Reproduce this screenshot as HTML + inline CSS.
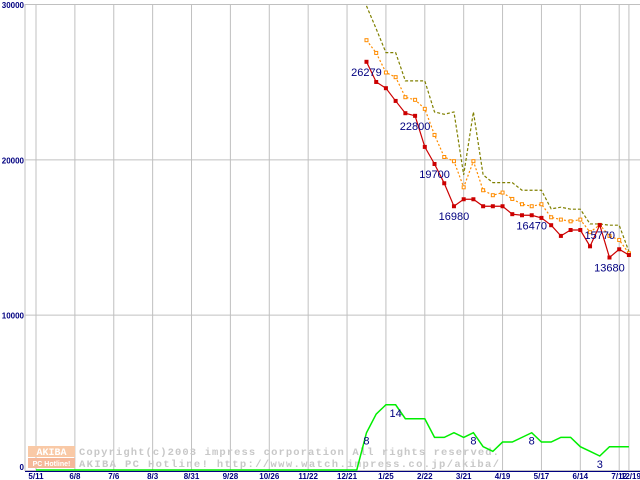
<!DOCTYPE html>
<html><head><meta charset="utf-8"><style>
html,body{margin:0;padding:0;background:#fff;width:640px;height:480px;overflow:hidden}
svg{display:block}
text{font-family:"Liberation Sans",sans-serif}
</style></head><body>
<svg id="chart" width="640" height="480" xmlns="http://www.w3.org/2000/svg">
<g id="grid"></g>
<g id="wm">
 <rect x="28" y="446" width="47" height="11" fill="#f9c9a6"/>
 <text x="51.5" y="455" font-size="10" font-weight="bold" fill="#fff" text-anchor="middle" style="font-family:'Liberation Mono',monospace">AKIBA</text>
 <rect x="28" y="458" width="47" height="10" fill="#f5b89a"/>
 <text x="51.5" y="466" font-size="7" font-weight="bold" fill="#fff" text-anchor="middle">PC Hotline!</text>
 <text x="79" y="455" font-size="10.5" font-weight="bold" fill="#c8c8c8" style="font-family:'Liberation Mono',monospace" textLength="420">Copyright(c)2003 impress corporation All rights reserved.</text>
 <text x="79" y="467" font-size="10.5" font-weight="bold" fill="#c8c8c8" style="font-family:'Liberation Mono',monospace" textLength="420">AKIBA PC Hotline!  http://www.watch.impress.co.jp/akiba/</text>
</g>
<g id="series"></g>
<g id="labels"></g>
</svg>
<script>
const xTickLabels = ["5/11","6/8","7/6","8/3","8/31","9/28","10/26","11/22","12/21","1/25","2/22","3/21","4/19","5/17","6/14","7/12"];
const yTickValues = [0,10000,20000,30000];
const priceStartWeek = 34;
const lowPrices = [26279,24980,24580,23760,22970,22800,20800,19700,18460,16980,17430,17430,16980,16980,16980,16470,16400,16400,16230,15760,15070,15450,15450,14400,15770,13680,14210,13840];
const avgPrices = [27670,26850,25590,25290,24000,23830,23250,21570,20150,19880,18200,19880,18010,17690,17860,17450,17110,16980,17110,16270,16120,16010,16120,15310,15780,15070,14810,13950];
const highPrices = [29880,28400,26870,26870,25050,25050,25050,23050,22900,23050,19000,23050,19000,18500,18500,18500,18010,18010,18010,16810,16920,16790,16790,15840,15840,15760,15760,14060];
const shopCounts = [8,12,14,14,11,11,11,7,7,8,7,8,5,4,6,6,7,8,6,6,7,7,5,4,3,5,5,5];
const priceLabels = [[0,"26279"],[5,"22800"],[7,"19700"],[9,"16980"],[17,"16470"],[24,"15770"],[25,"13680"]];
const countLabels = [[0,"8"],[3,"14"],[11,"8"],[17,"8"],[24,"3"]];

const NS="http://www.w3.org/2000/svg";
const X0=36, WEEK=9.72, Y0=470, PPU=466/30000, CPU=4.66;
const xW=w=>X0+WEEK*w;
const yP=v=>Y0-v*PPU;
const yC=c=>Y0-c*CPU;
function mk(tag,attrs,parent){const e=document.createElementNS(NS,tag);for(const k in attrs)e.setAttribute(k,attrs[k]);parent.appendChild(e);return e;}
const grid=document.getElementById('grid'),series=document.getElementById('series'),labels=document.getElementById('labels');

mk('line',{x1:25,y1:4,x2:25,y2:471,stroke:'#c0c0c0'},grid);
yTickValues.forEach(v=>{
  const l=mk('line',{x1:25,y1:yP(v)+0.5,x2:640,y2:yP(v)+0.5,stroke:'#c0c0c0'},grid);
  
  
  const t=mk('text',{x:24,y:yP(v)+(v===0?0:4),'font-size':8,'font-weight':'bold',fill:'#000080','text-anchor':'end'},grid);
  t.textContent=v;
  
  
});
xTickLabels.forEach((s,i)=>{
  const x=xW(i*4);
  const l=mk('line',{x1:x,y1:4,x2:x,y2:471,stroke:'#c0c0c0'},grid);
  
  
  const t=mk('text',{x:x,y:479,'font-size':8,'font-weight':'bold',fill:'#000080','text-anchor':'middle'},grid);
  t.textContent=s;
  
  
});
const lastX=xW(priceStartWeek+lowPrices.length-1);
mk('line',{x1:lastX,y1:4,x2:lastX,y2:471,stroke:'#c0c0c0'},grid);
const lt=mk('text',{x:lastX+2,y:479,'font-size':8,'font-weight':'bold',fill:'#000080','text-anchor':'middle'},grid);
lt.textContent="12/19";


mk('line',{x1:25,y1:471.5,x2:640,y2:471.5,stroke:'#000080'},grid);

let gp=[[xW(0),yC(0)],[xW(priceStartWeek-1),yC(0)]];
shopCounts.forEach((c,i)=>gp.push([xW(priceStartWeek+i),yC(c)]));
const g=mk('polyline',{points:gp.map(p=>p.join(',')).join(' '),fill:'none',stroke:'#00ee00','stroke-width':1.5},series);



function line(vals,color,dash,name){
  const pts=vals.map((v,i)=>[xW(priceStartWeek+i),yP(v)]);
  const p=mk('polyline',{points:pts.map(p=>p.join(',')).join(' '),fill:'none',stroke:color,'stroke-width':1.2,'stroke-dasharray':dash},series);
  
  
  return pts;
}
line(highPrices,'#808000','3,2','high-price-line');
const ap=line(avgPrices,'#ff8c00','2,2','avg-price-line');
ap.forEach(p=>{const r=mk('rect',{x:p[0]-1.5,y:p[1]-1.5,width:3,height:3,fill:'#fff',stroke:'#ff8c00','stroke-width':1},series);
  
  });
const lp=line(lowPrices,'#cc0000','','low-price-line');
lp.forEach(p=>{const r=mk('rect',{x:p[0]-2,y:p[1]-2,width:4,height:4,fill:'#cc0000'},series);
  
  });

priceLabels.forEach(([i,s])=>{
  const t=mk('text',{x:xW(priceStartWeek+i),y:yP(lowPrices[i])+14,'font-size':11,fill:'#000080','text-anchor':'middle'},labels);
  t.textContent=s;
  
  
});
countLabels.forEach(([i,s])=>{
  const t=mk('text',{x:xW(priceStartWeek+i),y:yC(shopCounts[i])+12,'font-size':11,fill:'#000080','text-anchor':'middle'},labels);
  t.textContent=s;
  
  
});
</script>
</body></html>
